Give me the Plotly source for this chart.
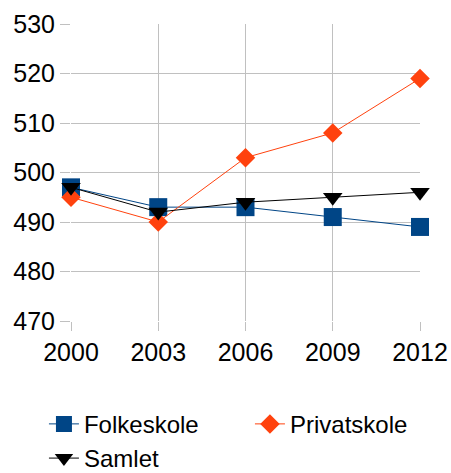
import plotly.graph_objects as go

years = ["2000", "2003", "2006", "2009", "2012"]
folkeskole = [497, 493, 493, 491, 489]
privatskole = [495, 490, 503, 508, 519]
samlet = [497, 492, 494, 495, 496]
y_ticks = [470, 480, 490, 500, 510, 520, 530]

fig = go.Figure()
fig.add_trace(go.Scatter(x=years, y=folkeskole, name="Folkeskole", mode="lines+markers",
                         line=dict(color="#004586", width=1),
                         marker=dict(symbol="square", size=18, color="#004586"),
                         cliponaxis=False))
fig.add_trace(go.Scatter(x=years, y=privatskole, name="Privatskole", mode="lines+markers",
                         line=dict(color="#ff420e", width=1),
                         marker=dict(symbol="diamond", size=15, color="#ff420e"),
                         cliponaxis=False))
fig.add_trace(go.Scatter(x=years, y=samlet, name="Samlet", mode="lines+markers",
                         line=dict(color="#000000", width=1),
                         marker=dict(symbol="triangle-down", size=17, color="#000000"),
                         cliponaxis=False))

fig.update_layout(
    width=451, height=473,
    margin=dict(l=71, r=31, t=24, b=152, autoexpand=False),
    paper_bgcolor="white", plot_bgcolor="white",
    font=dict(family="Liberation Sans, Arial, sans-serif", size=25, color="#000000"),
    showlegend=True,
    legend=dict(orientation="h", x=-0.0775, xanchor="left", y=-0.272, yanchor="top",
                font=dict(size=24), entrywidth=161, tracegroupgap=0),
)
fig.update_xaxes(type="category", range=[0, 4], showgrid=True, gridcolor="#c0c0c0", gridwidth=1,
                 ticks="outside", ticklen=9, tickcolor="#c0c0c0", showline=False, zeroline=False,
                 tickfont=dict(size=25), automargin=False)
fig.update_yaxes(range=[470, 530], tickvals=y_ticks, showgrid=True, gridcolor="#c0c0c0", gridwidth=1,
                 ticks="outside", ticklen=10, tickcolor="#c0c0c0", showline=False, zeroline=False,
                 tickfont=dict(size=25), automargin=False)

fig.write_html("out.html", config={"displayModeBar": False},
               post_script="document.body.style.margin='0';document.body.style.overflow='hidden';")
